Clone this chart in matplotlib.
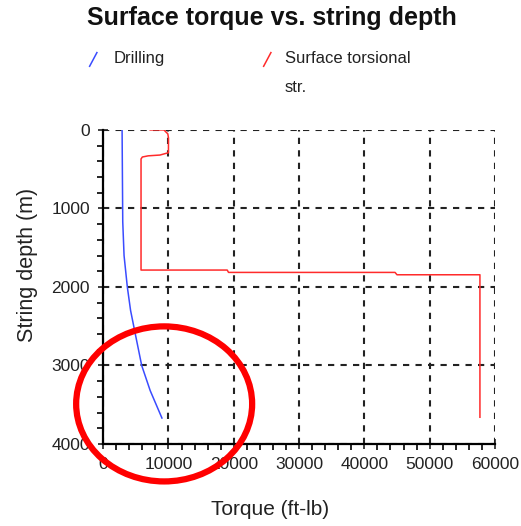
import numpy as np
import matplotlib
matplotlib.use('Agg')
import matplotlib.pyplot as plt
from matplotlib.patches import Ellipse
from matplotlib.lines import Line2D

plt.rcParams['font.family'] = ['Liberation Sans', 'DejaVu Sans']

# Drilling curve (torque ft-lb vs depth m)
drill_torque = [2900, 2950, 3000, 3200, 3700, 4200, 4900, 5900, 7200, 9000]
drill_depth = [0, 600, 1170, 1600, 2000, 2300, 2590, 3000, 3320, 3670]

# Surface torsional strength
str_torque = [7200, 9300, 9900, 10000, 10000, 8700, 6900, 6000, 5800, 5800,
              19000, 19200, 44700, 45000, 57700, 57700]
str_depth = [0, 0, 50, 100, 290, 320, 330, 345, 370, 1785,
             1785, 1815, 1815, 1845, 1845, 3660]

fig = plt.figure(figsize=(5.21, 5.26), dpi=100)
ax = fig.add_axes([0.198, 0.156, 0.752, 0.597])

ax.plot(drill_torque, drill_depth, color='#3a4cff', lw=1.1)
ax.plot(str_torque, str_depth, color='#ff2b2b', lw=1.1)

ax.set_xlim(0, 60000)
ax.set_ylim(4000, 0)
ax.set_xticks(np.arange(0, 60001, 10000))
ax.set_yticks(np.arange(0, 4001, 1000))
ax.set_xticks(np.arange(0, 60001, 2000), minor=True)
ax.set_yticks(np.arange(0, 4001, 200), minor=True)
ax.tick_params(which='major', direction='inout', length=7, width=1.2,
               labelsize=12.5, colors='#222222', pad=6)
ax.tick_params(which='minor', direction='out', length=4, width=1.2)
ax.grid(True, which='major', color='#222222', linestyle=(0, (3, 3)), lw=1.5)

ax.spines['top'].set_visible(False)
ax.spines['right'].set_visible(False)
ax.spines['left'].set_linewidth(1.6)
ax.spines['bottom'].set_linewidth(1.6)

ax.set_xlabel('Torque (ft-lb)', fontsize=15, color='#222222')
ax.set_ylabel('String depth (m)', fontsize=15.5, color='#222222')
ax.xaxis.set_label_coords(0.426, -0.178)
ax.yaxis.set_label_coords(-0.166, 0.57)

# red highlight ellipse
ax.add_patch(Ellipse((9340, 3490), 26950, 1975, fill=False,
                     edgecolor='#ff0000', lw=4.5, clip_on=False, zorder=5))

fig.text(0.522, 0.965, 'Surface torque vs. string depth', ha='center',
         va='center', fontsize=18, fontweight='bold', color='#111111')

# legend drawn by hand
fig.add_artist(Line2D([0.172, 0.186], [0.874, 0.900], color='#3a4cff', lw=1.1))
fig.text(0.218, 0.888, 'Drilling', fontsize=12, va='center', color='#222222')
fig.add_artist(Line2D([0.506, 0.520], [0.874, 0.900], color='#ff2b2b', lw=1.1))
fig.text(0.547, 0.888, 'Surface torsional', fontsize=12, va='center', color='#222222')
fig.text(0.547, 0.834, 'str.', fontsize=12, va='center', color='#222222')

plt.savefig('out.png', dpi=100)
